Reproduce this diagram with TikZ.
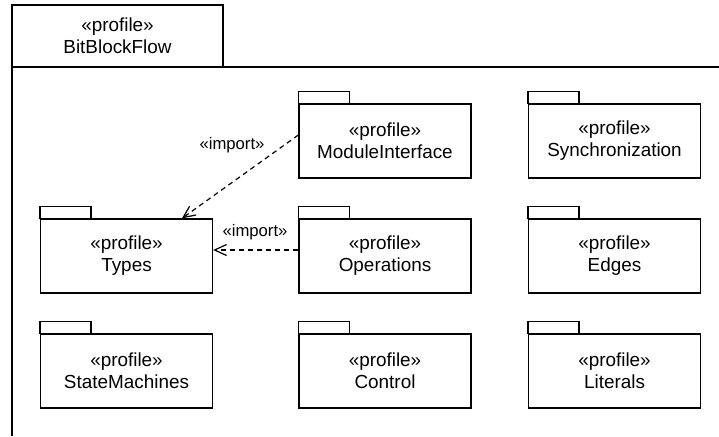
\documentclass[tikz,border=0pt]{standalone}
\usepackage{fontspec}
\setmainfont{Liberation Sans}
\usetikzlibrary{arrows.meta}
\begin{document}
\begin{tikzpicture}[x=1pt,y=-1pt,
  lw/.style={line width=1.3pt},
  pkg/.style={draw, lw, minimum width=172pt, minimum height=74pt, inner sep=0pt,
    align=center, font=\fontsize{18.9}{22}\selectfont},
  lbl/.style={font=\fontsize{16.7}{19}\selectfont, inner sep=0pt},
  dep/.style={line width=1.2pt, dash pattern=on 5pt off 4pt, -{Straight Barb[length=12pt,width=11pt,line width=1.2pt]}}
]
\useasboundingbox (0,0) rectangle (719,436);
% outer frame
\draw[lw] (12,436) -- (12,67) -- (730,67);
\node[draw, lw, minimum width=211pt, minimum height=62pt, inner sep=0pt, align=center,
  font=\fontsize{18.9}{22}\selectfont] (frame) at (117.5,36) {«profile»\\BitBlockFlow};
% packages
\newcommand{\pkgtab}[1]{\draw[lw] (#1.north west) rectangle ++(51,-12);}
\node[pkg] (mi) at (385,141) {«profile»\\ModuleInterface};
\node[pkg] (sync) at (614.5,141) {«profile»\\Synchronization};
\node[pkg] (types) at (126.5,256) {«profile»\\Types};
\node[pkg] (ops) at (385,256) {«profile»\\Operations};
\node[pkg] (edges) at (614.5,256) {«profile»\\Edges};
\node[pkg] (sm) at (126.5,371) {«profile»\\StateMachines};
\node[pkg] (ctrl) at (385,371) {«profile»\\Control};
\node[pkg] (lit) at (614.5,371) {«profile»\\Literals};
\foreach \n in {mi,sync,types,ops,edges,sm,ctrl,lit} {\pkgtab{\n}}
% dependencies
\draw[dep] ([yshift=6pt]mi.west) -- ([xshift=55.5pt]types.north);
\draw[dep] ([yshift=6pt]ops.west) -- ([yshift=6pt]types.east);
\node[lbl] (l1) at (232,145) {«import»};
\node[lbl] (l2) at (255,232) {«import»};
\end{tikzpicture}
\end{document}
